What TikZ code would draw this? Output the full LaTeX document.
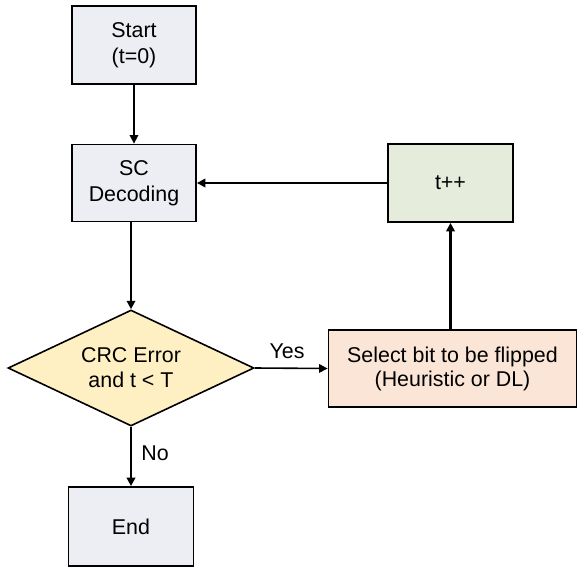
\documentclass[tikz,border=0pt]{standalone}
\usepackage{fontspec}
\setmainfont{Liberation Sans}
\usetikzlibrary{arrows.meta,shapes.geometric}
\definecolor{grayfill}{RGB}{236,238,243}
\definecolor{greenfill}{RGB}{230,236,220}
\definecolor{peachfill}{RGB}{250,229,215}
\definecolor{yellowfill}{RGB}{255,240,196}
\tikzset{
  box/.style={draw=black, line width=0.9pt, align=center, inner sep=0pt,
    font=\fontsize{10.7}{13}\selectfont},
  decision/.style={draw=black, line width=0.8pt, diamond, align=center, inner sep=0pt,
    shape aspect=2.12, minimum width=123pt, minimum height=58pt, fill=yellowfill,
    font=\fontsize{10.7}{12.5}\selectfont},
  thinarrow/.style={line width=0.8pt, -{Triangle[length=4.2pt,width=4.2pt]}},
  thickarrow/.style={line width=1.3pt, -{Triangle[length=4.2pt,width=4.2pt]}},
  lbl/.style={font=\fontsize{10.7}{12.5}\selectfont, inner sep=0pt}
}
\begin{document}
\begin{tikzpicture}[x=0.5pt,y=-0.5pt]
\useasboundingbox (0,0) rectangle (581,572);
\node[box, fill=grayfill, minimum width=62pt, minimum height=39pt] (start) at (134,45) {Start\\(t=0)};
\node[box, fill=grayfill, minimum width=62pt, minimum height=38.5pt] (sc) at (134,183) {SC\\Decoding};
\node[box, fill=greenfill, minimum width=62.5pt, minimum height=39pt] (inc) at (450.5,183) {t++};
\node[decision] (crc) at (131,368) {CRC Error\\and t {<} T};
\node[box, fill=peachfill, minimum width=124pt, minimum height=38.5pt, font=\fontsize{10.7}{12}\selectfont] (sel) at (452.5,368.5) {Select bit to be flipped\\(Heuristic or DL)};
\node[box, fill=grayfill, minimum width=62.5pt, minimum height=39.5pt] (end) at (131,526.5) {End};
\node[lbl] (yes) at (287,351) {Yes};
\node[lbl] (no) at (155,453) {No};
\draw[thinarrow] (start.south) -- (sc.north);
\draw[thickarrow] (sc.south -| crc.north) -- (crc.north);
\draw[thickarrow] (crc.south) -- (end.north);
\draw[thinarrow] (crc.east) -- (sel.west);
\draw[thickarrow] (sel.north -| inc.south) -- (inc.south);
\draw[thickarrow] (inc.west) -- (sc.east);
\end{tikzpicture}
\end{document}
